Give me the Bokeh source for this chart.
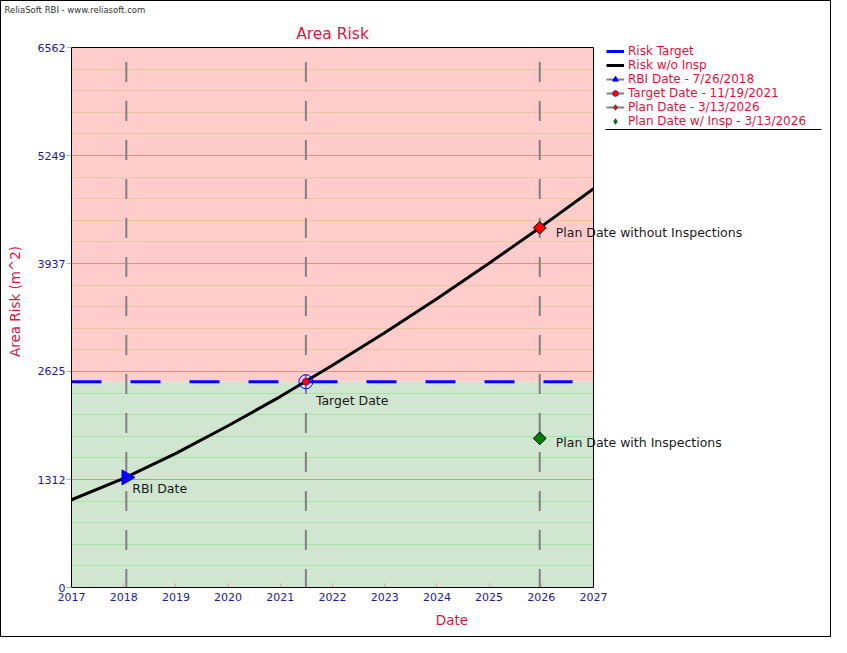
import numpy as np
from bokeh.plotting import figure
from bokeh.models import (Range1d, FixedTicker, Grid, BoxAnnotation, Label, Legend,
                          LegendItem, Title)
from bokeh.embed import file_html
from bokeh.resources import INLINE

# ---- data ----
years = [2017, 2018, 2019, 2020, 2021, 2022, 2023, 2024, 2025, 2026, 2027]
risk_wo_insp = [1066, 1325, 1630, 1965, 2320, 2700, 3095, 3510, 3940, 4385, 4845]
risk_target = 2500
target_line_end = 2026.6
rbi_date = 2018.05
rbi_risk = 1338
target_date = 2021.49
target_risk = 2500
plan_date = 2025.97
plan_risk = 4371
plan_insp_risk = 1812
vline_top = 6385
x_ticks = years
y_ticks = [0, 1312, 2625, 3937, 5249, 6562]
y_max = 6562
legend_labels = ["Risk Target", "Risk w/o Insp", "RBI Date - 7/26/2018",
                 "Target Date - 11/19/2021", "Plan Date - 3/13/2026",
                 "Plan Date w/ Insp - 3/13/2026"]
marker_labels = ["RBI Date", "Target Date", "Plan Date without Inspections",
                 "Plan Date with Inspections"]

# ---- layout (pixels) ----
W, H = 831, 637
LEFT, BOTTOM, TOP = 70, 51, 14          # side panels
PLOT_W, PLOT_H = 522, 540               # visible plot box (2017-2027, 0-6562)
x0, x1 = years[0], years[-1]
px_per_x = PLOT_W / (x1 - x0)
px_per_y = PLOT_H / y_max
frame_w = W - LEFT
frame_h = H - BOTTOM - TOP
x_end = x0 + frame_w / px_per_x
y_end = frame_h / px_per_y

FONT = "DejaVu Sans"
CRIMSON = "#dc143c"
NAVY = "#1c1c96"
SALMON = "#ff9a9a"
GRAY = "#808080"

p = figure(width=W, height=H, x_range=Range1d(x0, x_end), y_range=Range1d(0, y_end),
           output_backend="svg", toolbar_location=None,
           min_border_left=LEFT, min_border_right=0, min_border_top=TOP,
           min_border_bottom=BOTTOM)
p.title.visible = False
p.background_fill_color = "white"
p.border_fill_color = "white"
p.outline_line_color = None
p.styles = {"border": "1px solid black", "box-sizing": "border-box"}
p.xgrid.visible = False
p.ygrid.visible = False

# watermark title
p.add_layout(Title(text="ReliaSoft RBI - www.reliasoft.com", align="left", offset=-67,
                   standoff=1, text_font=FONT, text_font_size="8.5px",
                   text_font_style="normal", text_color="#333333"), "above")

# coloured zones
p.add_layout(BoxAnnotation(left=x0, right=x1, bottom=risk_target, top=y_max,
                           fill_color="#ffcccc", fill_alpha=1.0, line_color=None,
                           level="image"))
p.add_layout(BoxAnnotation(left=x0, right=x1, bottom=0, top=risk_target,
                           fill_color="#d0e6d0", fill_alpha=1.0, line_color=None,
                           level="image"))

# grids
step = y_max / 25.0
minor_all = [k * step for k in range(1, 25) if k % 5 != 0]
minor_green = [v for v in minor_all if v < risk_target]
minor_pink = [v for v in minor_all if v > risk_target]
p.add_layout(Grid(dimension=1, ticker=FixedTicker(ticks=minor_green), grid_line_color="#a8e2a8"))
p.add_layout(Grid(dimension=1, ticker=FixedTicker(ticks=minor_pink), grid_line_color="#e8c8a0"))
p.add_layout(Grid(dimension=1, ticker=FixedTicker(ticks=y_ticks[1:-1]), grid_line_color="#ff8080"))

# white masks outside the plot box (over grid lines)
p.add_layout(BoxAnnotation(left=x1, fill_color="white", fill_alpha=1.0, line_color=None,
                           level="underlay"))
p.add_layout(BoxAnnotation(bottom=y_max, fill_color="white", fill_alpha=1.0, line_color=None,
                           level="underlay"))

# axes
xa = p.xaxis[0]
xa.bounds = (x0, x1)
xa.ticker = FixedTicker(ticks=x_ticks)
xa.major_tick_in = 4
xa.major_tick_out = 0
xa.major_tick_line_color = SALMON
xa.minor_tick_line_color = None
xa.axis_line_color = "black"
xa.major_label_text_color = NAVY
xa.major_label_text_font = FONT
xa.major_label_text_font_size = "11px"
xa.major_label_standoff = 5
xa.axis_label = "Date"
xa.axis_label_text_color = CRIMSON
xa.axis_label_text_font = FONT
xa.axis_label_text_font_size = "13.5px"
xa.axis_label_text_font_style = "normal"
xa.axis_label_standoff = 8

ya = p.yaxis[0]
ya.bounds = (0, y_max)
ya.ticker = FixedTicker(ticks=y_ticks)
ya.major_tick_in = 0
ya.major_tick_out = 5
ya.major_tick_line_color = SALMON
ya.minor_tick_line_color = None
ya.axis_line_color = "black"
ya.major_label_text_color = NAVY
ya.major_label_text_font = FONT
ya.major_label_text_font_size = "11px"
ya.major_label_standoff = 1
ya.axis_label = "Area Risk (m^2)"
ya.axis_label_text_color = CRIMSON
ya.axis_label_text_font = FONT
ya.axis_label_text_font_size = "13.5px"
ya.axis_label_text_font_style = "normal"
ya.axis_label_standoff = 12

# vertical dashed date lines
for d in (rbi_date, target_date, plan_date):
    p.line([d, d], [vline_top, 0], line_color=GRAY, line_width=2, line_dash="20 19")

# risk target line
p.line([x0, target_line_end], [risk_target, risk_target], line_color="#0000ff",
       line_width=3, line_dash="30 29")

# risk curve
p.line(years, risk_wo_insp, line_color="black", line_width=3)

# markers
p.scatter([rbi_date], [rbi_risk], marker="triangle", angle=-np.pi / 2, size=15,
          fill_color="#0000ff", line_color="#0000ff")
p.scatter([target_date], [target_risk], marker="circle", size=14, fill_color=None,
          line_color="#0000ff", line_width=1)
p.scatter([target_date], [target_risk], marker="circle", size=7, fill_color="#ff0000",
          line_color="#0000ff", line_width=0.5)
p.scatter([plan_date], [plan_risk], marker="square", angle=np.pi / 4, size=9,
          fill_color="#ff0000", line_color="black", line_width=1)
p.scatter([plan_date], [plan_insp_risk], marker="square", angle=np.pi / 4, size=9,
          fill_color="#008000", line_color="black", line_width=1)

# frame box
p.add_layout(BoxAnnotation(left=x0, right=x1, bottom=0, top=y_max, fill_alpha=0,
                           line_color="black", line_width=1, line_alpha=1.0))

# marker labels
lab_pts = [(rbi_date, rbi_risk, 6, -11), (target_date, target_risk, 10, -19),
           (plan_date, plan_risk, 16, -5), (plan_date, plan_insp_risk, 16, -4)]
for txt, (lx, ly, dx, dy) in zip(marker_labels, lab_pts):
    p.add_layout(Label(x=lx, y=ly, x_offset=dx, y_offset=dy, text=txt,
                       text_font=FONT, text_font_size="12.5px", text_color="#1a1a1a",
                       text_baseline="middle", text_align="left"))

# chart title
p.add_layout(Label(x=(x0 + x1) / 2, y=y_max, y_offset=14, text="Area Risk", text_font=FONT,
                   text_font_size="15.5px", text_color=CRIMSON, text_align="center",
                   text_baseline="middle"))

# legend (hidden one-point renderers used only for legend glyphs)
nan = [np.nan]
lg_target = p.line(nan, nan, line_color="#0000ff", line_width=3)
lg_curve = p.line(nan, nan, line_color="black", line_width=3)
lg_gray = [p.line(nan, nan, line_color=GRAY, line_width=2) for _ in range(3)]
lg_rbi = p.scatter(nan, nan, marker="triangle", size=7,
                   fill_color="#0000ff", line_color="#0000ff")
lg_tring = p.scatter(nan, nan, marker="circle", size=7, fill_color=None, line_color="#0000ff")
lg_tdot = p.scatter(nan, nan, marker="circle", size=3, fill_color="#ff0000", line_color=None)
lg_plan = p.scatter(nan, nan, marker="diamond", size=10,
                    fill_color="#ff0000", line_color="black", line_width=0.5)
lg_insp = p.scatter(nan, nan, marker="diamond", size=10,
                    fill_color="#008000", line_color="black", line_width=0.5)
items = [
    LegendItem(label=legend_labels[0], renderers=[lg_target]),
    LegendItem(label=legend_labels[1], renderers=[lg_curve]),
    LegendItem(label=legend_labels[2], renderers=[lg_gray[0], lg_rbi]),
    LegendItem(label=legend_labels[3], renderers=[lg_gray[1], lg_tring, lg_tdot]),
    LegendItem(label=legend_labels[4], renderers=[lg_gray[2], lg_plan]),
    LegendItem(label=legend_labels[5], renderers=[lg_insp]),
]
LEG_X, LEG_TOP, LEG_ROW = 535, 43 - TOP, 14
legend = Legend(items=items,
                location=(LEG_X, frame_h - LEG_TOP - LEG_ROW * len(items)),
                margin=0, padding=0, spacing=0,
                glyph_width=18, glyph_height=LEG_ROW, label_height=LEG_ROW, label_standoff=4,
                label_text_font=FONT, label_text_font_size="12px",
                label_text_color=CRIMSON, border_line_color=None, background_fill_alpha=0)
p.add_layout(legend, "center")

# legend underline
ul_y = (frame_h - (LEG_TOP + LEG_ROW * len(items) + 1)) / px_per_y
p.add_layout(BoxAnnotation(left=x0 + (LEG_X - 1) / px_per_x, right=x0 + (LEG_X + 215) / px_per_x,
                           bottom=ul_y - 0.5 / px_per_y, top=ul_y + 0.5 / px_per_y,
                           fill_color="black", fill_alpha=1.0, line_color=None))

open("out.html", "w").write(file_html(p, INLINE))
